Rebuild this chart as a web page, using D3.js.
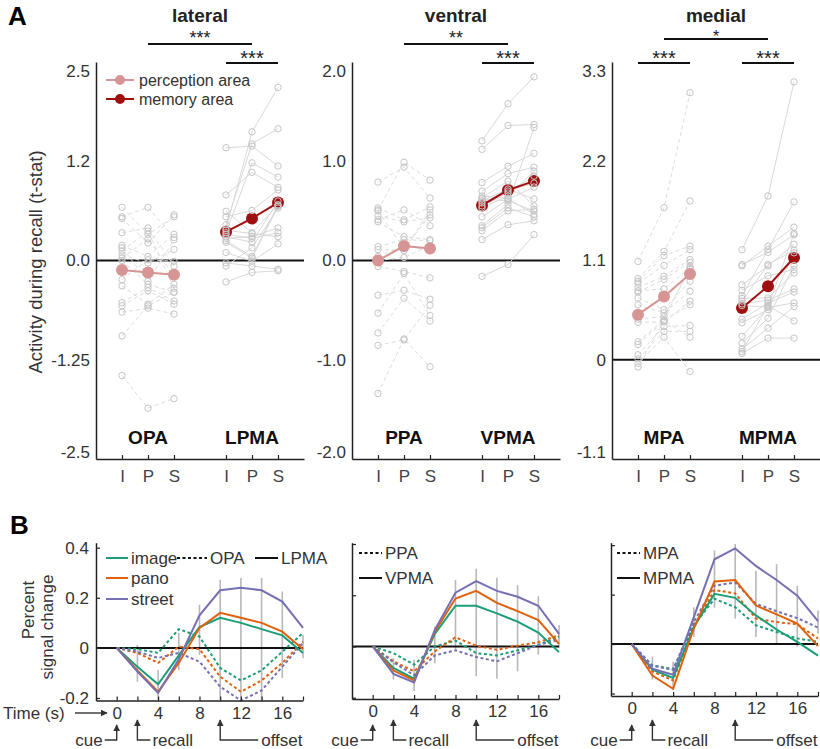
<!DOCTYPE html>
<html><head><meta charset="utf-8">
<script src="https://cdn.jsdelivr.net/npm/d3@7"></script>
<style>body{margin:0;background:#fff}svg{display:block}</style>
</head><body><svg id="c" width="820" height="749"></svg>
<script>
// ---------------- Panel A data ----------------
const conditions = ["I", "P", "S"];
const regionTitles = ["lateral", "ventral", "medial"];
const perceptionNames = ["OPA", "PPA", "MPA"];
const memoryNames = ["LPMA", "VPMA", "MPMA"];
const yDomainsA = [[-2.5, 2.5], [-2, 2], [-1.1, 3.3]];
const yTicksA = [[-2.5, -1.25, 0, 1.25, 2.5], [-2, -1, 0, 1, 2], [-1.1, 0, 1.1, 2.2, 3.3]];
const yTickLabelsA = [["-2.5", "-1.25", "0.0", "1.2", "2.5"], ["-2.0", "-1.0", "0.0", "1.0", "2.0"], ["-1.1", "0", "1.1", "2.2", "3.3"]];

const OPA_I = [0.67, 0.55, 0.53, 0.35, 0.19, 0.16, 0.12, 0.07, 0.03, 0.00, -0.24, -0.32, -0.53, -0.57, -0.65, -0.95, -1.45];
const OPA_P = [0.33, 0.67, 0.22, 0.41, 0.05, -0.26, 0.37, -0.03, 0.275, -0.30, 0.01, -0.55, -0.34, -0.38, -0.60, -0.57, -1.86];
const OPA_S = [0.55, 0.29, 0.575, -0.07, 0.33, 0.26, -0.35, 0.14, -0.20, -0.40, -0.01, -0.30, -0.51, -0.55, -0.675, -0.40, -1.74];
const LPMA_I = [1.42, 0.825, 0.40, 0.45, 0.35, 0.55, 0.62, 0.30, 0.28, 0.33, 0.25, 0.38, 0.23, 0.10, -0.03, -0.07, -0.27];
const LPMA_P = [1.44, 1.11, 1.62, 1.47, 1.23, 0.63, 0.35, 0.23, 0.30, 0.28, 0.05, 0.34, 0.03, -0.01, -0.07, 0.16, -0.15];
const LPMA_S = [1.19, 0.92, 2.18, 1.66, 1.05, 0.89, 0.70, 0.75, 0.41, 0.35, 0.70, 0.30, 0.68, 0.21, -0.11, 0.66, -0.13];
const PPA_I = [0.79, 0.53, 0.51, 0.50, 0.45, 0.41, 0.39, 0.14, 0.11, 0.04, 0.00, -0.06, -0.35, -0.53, -0.73, -0.855, -1.34];
const PPA_P = [0.94, 0.41, 0.99, 0.12, 0.39, 0.51, 0.24, 0.21, 0.10, 0.15, 0.03, -0.11, -0.30, -0.13, -0.38, -0.80, -0.79];
const PPA_S = [0.63, 0.54, 0.81, 0.46, 0.43, 0.35, 0.21, 0.20, 0.51, 0.10, 0.15, -0.175, -0.39, -0.555, -0.61, -0.45, -1.07];
const VPMA_I = [1.205, 1.12, 0.785, 0.70, 0.63, 0.53, 0.44, 0.35, 0.33, 0.30, 0.21, -0.16, 0.55, 0.58, 0.60, 0.62, 0.65];
const VPMA_P = [1.58, 1.36, 0.95, 0.875, 0.80, 0.65, 0.615, 0.565, 0.53, 0.50, 0.36, -0.04, 0.68, 0.70, 0.72, 0.60, 0.625];
const VPMA_S = [1.85, 1.37, 1.08, 0.94, 0.55, 0.90, 0.74, 1.34, 0.44, 0.515, 0.40, 0.26, 0.85, 0.78, 0.62, 0.50, 0.465];
const MPA_I = [1.09, 0.90, 0.87, 0.85, 0.80, 0.75, 0.765, 0.685, 0.61, 0.45, 0.415, 0.20, 0.17, 0.055, 0.01, -0.04, -0.08];
const MPA_P = [1.685, 1.20, 1.155, 1.045, 0.925, 0.89, 0.785, 0.555, 0.52, 0.48, 0.42, 0.44, 0.43, 0.37, 0.315, 0.25, 0.435];
const MPA_S = [2.96, 1.76, 1.26, 1.22, 1.11, 1.08, 1.02, 0.87, 0.76, 1.00, 0.65, 1.035, 0.61, 0.38, 0.315, -0.13, 0.25];
const MPMA_I = [1.22, 1.055, 1.04, 0.83, 0.77, 0.71, 0.68, 0.65, 0.62, 0.60, 0.45, 0.41, 0.26, 0.185, 0.12, 0.09, 0.07];
const MPMA_P = [1.815, 1.19, 1.26, 1.04, 0.93, 1.22, 0.685, 1.055, 0.66, 0.585, 0.63, 0.555, 0.58, 0.46, 0.35, 0.60, 0.24];
const MPMA_S = [3.08, 1.385, 1.47, 1.28, 1.00, 1.75, 0.96, 1.215, 0.785, 1.40, 0.75, 1.185, 0.63, 1.045, 0.59, 0.43, 0.24];

const perceptionMeans = [[-0.12, -0.15, -0.18], [0.0, 0.145, 0.12], [0.50, 0.70, 0.95]];
const memoryMeans = [[0.36, 0.53, 0.73], [0.555, 0.71, 0.80], [0.574, 0.815, 1.13]];
const sigAcross = ["***", "**", "*"];
const sigPerception = [null, null, "***"];
const sigMemory = ["***", "***", "***"];

// ---------------- Panel B data ----------------
const timePoints = [0, 2, 4, 6, 8, 10, 12, 14, 16, 18];
const conditionNames = ["image", "pano", "street"];
const LPMA_tc_image = [0, -0.075, -0.145, -0.03, 0.083, 0.12, 0.10, 0.075, 0.05, -0.02];
const LPMA_tc_pano = [0, -0.09, -0.175, -0.06, 0.08, 0.14, 0.12, 0.10, 0.065, -0.005];
const LPMA_tc_street = [0, -0.095, -0.18, -0.045, 0.13, 0.23, 0.24, 0.23, 0.185, 0.08];
const OPA_tc_image = [0, -0.005, -0.02, 0.075, 0.045, -0.08, -0.13, -0.09, -0.015, 0.06];
const OPA_tc_pano = [0, -0.02, -0.06, 0.005, -0.005, -0.115, -0.175, -0.13, -0.06, 0.025];
const OPA_tc_street = [0, -0.015, -0.04, -0.02, -0.055, -0.155, -0.21, -0.17, -0.075, 0.02];
const VPMA_tc_image = [0, -0.084, -0.126, 0.049, 0.159, 0.159, 0.129, 0.097, 0.054, -0.022];
const VPMA_tc_pano = [0, -0.094, -0.132, 0.058, 0.187, 0.217, 0.17, 0.138, 0.103, 0.01];
const VPMA_tc_street = [0, -0.107, -0.14, 0.065, 0.21, 0.255, 0.217, 0.194, 0.159, 0.049];
const PPA_tc_image = [0, -0.026, -0.071, 0, 0.023, -0.026, -0.035, -0.015, 0.006, 0.039];
const PPA_tc_pano = [0, -0.058, -0.097, -0.019, 0.036, 0.003, -0.013, 0.003, 0.017, 0.044];
const PPA_tc_street = [0, -0.062, -0.112, -0.035, -0.015, -0.041, -0.058, -0.026, 0.006, 0.026];
const MPMA_tc_image = [0, -0.104, -0.137, 0.069, 0.203, 0.187, 0.116, 0.059, 0.009, -0.047];
const MPMA_tc_pano = [0, -0.127, -0.181, 0.063, 0.253, 0.259, 0.156, 0.12, 0.083, -0.008];
const MPMA_tc_street = [0, -0.1, -0.124, 0.109, 0.343, 0.387, 0.316, 0.259, 0.196, 0.093];
const MPA_tc_image = [0, -0.087, -0.101, 0.076, 0.183, 0.149, 0.076, 0.049, 0.023, 0.009];
const MPA_tc_pano = [0, -0.111, -0.147, 0.067, 0.219, 0.205, 0.103, 0.089, 0.08, 0.023];
const MPA_tc_street = [0, -0.087, -0.104, 0.089, 0.236, 0.249, 0.163, 0.133, 0.105, 0.067];
const errLow = [
  [null, -0.135, -0.208, -0.088, -0.028, -0.208, -0.21, -0.21, -0.12, -0.041],
  [null, -0.129, -0.174, -0.065, -0.01, -0.116, -0.126, -0.097, -0.032, -0.006],
  [null, -0.144, -0.184, 0.029, 0.147, 0.103, 0.029, 0.003, -0.011, 0.043]];
const errHigh = [
  [null, 0.012, -0.088, 0.059, 0.172, 0.272, 0.279, 0.279, 0.225, 0.052],
  [null, -0.045, -0.052, 0.077, 0.26, 0.303, 0.268, 0.239, 0.196, 0.084],
  [null, -0.05, -0.071, 0.149, 0.379, 0.405, 0.296, 0.323, 0.236, 0.136]];
const yTicksB = [-0.2, 0, 0.2, 0.4];
const yTickLabelsB = ["-0.2", "0", "0.2", "0.4"];
const xTicksB = [0, 2, 4, 6, 8, 10, 12, 14, 16, 18];

// ---------------- drawing ----------------
const FONT = '"Liberation Sans", Arial, Helvetica, sans-serif';
const svg = d3.select("#c");
const txtCol = "#222";
const PINK = "#d69594", DARKRED = "#a00f10";
const tcColors = {image: "#1b9e77", pano: "#e0600c", street: "#7570b3"};

function text(g, x, y, s, size, opts = {}) {
  return g.append("text").attr("x", x).attr("y", y).text(s)
    .attr("font-family", FONT).attr("font-size", size)
    .attr("font-weight", opts.bold ? "bold" : null)
    .attr("fill", opts.fill || txtCol)
    .attr("text-anchor", opts.anchor || "start")
    .attr("dominant-baseline", opts.baseline || "central");
}

text(svg, 8, 16, "A", 26, {bold: true, fill: "#000"});
text(svg, 10, 525, "B", 26, {bold: true, fill: "#000"});

const perceptionSubj = [[OPA_I, OPA_P, OPA_S], [PPA_I, PPA_P, PPA_S], [MPA_I, MPA_P, MPA_S]];
const memorySubj = [[LPMA_I, LPMA_P, LPMA_S], [VPMA_I, VPMA_P, VPMA_S], [MPMA_I, MPMA_P, MPMA_S]];
const aX0 = [96, 352, 612], aW = 208, aTop = 62, aBot = 459;

text(svg, 0, 0, "Activity during recall (t-stat)", 18.5, {anchor: "middle", fill: "#333"})
  .attr("transform", "translate(35,262) rotate(-90)");

regionTitles.forEach((title, i) => {
  const x = d3.scaleLinear().domain([0, 8]).range([aX0[i], aX0[i] + aW]);
  const y = d3.scaleLinear().domain(yDomainsA[i]).range([aBot, aTop]);
  const g = svg.append("g");

  // zero line
  g.append("line").attr("x1", x(0)).attr("x2", x(8)).attr("y1", y(0)).attr("y2", y(0))
    .attr("stroke", "#111").attr("stroke-width", 2);

  // y axis
  const nT = yTicksA[i].length;
  const ya = g.append("g").attr("transform", `translate(${x(0)},0)`)
    .call(d3.axisLeft(y).tickValues(yTicksA[i]).tickFormat((d, j) => yTickLabelsA[i][j]).tickSize(0).tickPadding(6));
  ya.select(".domain").attr("stroke", "#222").attr("stroke-width", 1.5);
  ya.selectAll("text").attr("font-size", 17).attr("font-family", FONT).attr("fill", "#333")
    .attr("dy", (d, j) => j === 0 ? "-0.06em" : (j === nT - 1 ? "0.88em" : "0.32em"));

  // x axis
  const xa = g.append("g").attr("transform", `translate(0,${aBot})`)
    .call(d3.axisBottom(x).tickValues([1, 2, 3, 5, 6, 7]).tickFormat((d, j) => conditions[j % 3])
      .tickSizeInner(-4).tickSizeOuter(0).tickPadding(11));
  xa.select(".domain").attr("stroke", "#222").attr("stroke-width", 1.5);
  xa.selectAll(".tick line").attr("stroke", "#222").attr("stroke-width", 1.2);
  xa.selectAll("text").attr("font-size", 17).attr("font-family", FONT).attr("fill", "#444");

  // title and significance
  text(g, x(4), 15, title, 19, {bold: true, anchor: "middle"});
  const topBarY = i === 2 ? 39 : 44;
  g.append("line").attr("x1", x(2)).attr("x2", x(6)).attr("y1", topBarY).attr("y2", topBarY)
    .attr("stroke", "#111").attr("stroke-width", 2);
  if (i === 2) text(g, x(4), 41.5, sigAcross[i], 16, {anchor: "middle", baseline: "auto"});
  else text(g, x(4), 43.5, sigAcross[i], 18, {anchor: "middle", baseline: "auto"});
  [[sigPerception[i], 1, 3], [sigMemory[i], 5, 7]].forEach(([s, a, b]) => {
    if (!s) return;
    g.append("line").attr("x1", x(a)).attr("x2", x(b)).attr("y1", 63).attr("y2", 63)
      .attr("stroke", "#111").attr("stroke-width", 2);
    text(g, x((a + b) / 2), 64.5, s, 20, {anchor: "middle", baseline: "auto"});
  });

  // region labels
  text(g, x(2), 437, perceptionNames[i], 19, {bold: true, anchor: "middle", fill: "#111"});
  text(g, x(6), 437, memoryNames[i], 19, {bold: true, anchor: "middle", fill: "#111"});

  const line = d3.line().x(d => x(d.x)).y(d => y(d.v));
  function group(subj, xs, mem, means) {
    const n = subj[0].length;
    const rows = d3.range(n).map(k => [0, 1, 2].map(c => ({x: xs[c], v: subj[c][k]})));
    const pts = rows.flat();
    g.append("g").selectAll("path").data(rows).join("path")
      .attr("d", line).attr("fill", "none").attr("stroke", mem ? "#d9d9d9" : "#dcdcdc")
      .attr("stroke-width", 1).attr("stroke-dasharray", mem ? null : "4,3");
    const circ = () => g.append("g").selectAll("circle").data(pts).join("circle")
      .attr("cx", d => x(d.x)).attr("cy", d => y(d.v)).attr("r", 3.2)
      .attr("fill", "none").attr("stroke", "#c6c6c6").attr("stroke-width", 1);
    if (!mem) circ();
    const md = means.map((v, c) => ({x: xs[c], v}));
    const col = mem ? DARKRED : PINK;
    g.append("path").attr("d", line(md)).attr("fill", "none").attr("stroke", col).attr("stroke-width", 2);
    g.append("g").selectAll("circle").data(md).join("circle")
      .attr("cx", d => x(d.x)).attr("cy", d => y(d.v)).attr("r", 6).attr("fill", col);
    if (mem) circ();
  }
  group(perceptionSubj[i], [1, 2, 3], false, perceptionMeans[i]);
  group(memorySubj[i], [5, 6, 7], true, memoryMeans[i]);

  // legend (lateral only)
  if (i === 0) {
    [["perception area", PINK, 80], ["memory area", DARKRED, 99]].forEach(([lab, col, ly]) => {
      g.append("line").attr("x1", 106).attr("x2", 134).attr("y1", ly).attr("y2", ly).attr("stroke", col).attr("stroke-width", 2);
      g.append("circle").attr("cx", 120).attr("cy", ly).attr("r", 5).attr("fill", col);
      text(g, 139, ly, lab, 16, {fill: "#333"});
    });
  }
});

// ---------------- Panel B ----------------
const tcPerception = [
  {image: OPA_tc_image, pano: OPA_tc_pano, street: OPA_tc_street},
  {image: PPA_tc_image, pano: PPA_tc_pano, street: PPA_tc_street},
  {image: MPA_tc_image, pano: MPA_tc_pano, street: MPA_tc_street}];
const tcMemory = [
  {image: LPMA_tc_image, pano: LPMA_tc_pano, street: LPMA_tc_street},
  {image: VPMA_tc_image, pano: VPMA_tc_pano, street: VPMA_tc_street},
  {image: MPMA_tc_image, pano: MPMA_tc_pano, street: MPMA_tc_street}];
const bX0 = [96, 352, 611], bW = 207;
const bYDomains = [[-0.21, 0.42], [-0.205, 0.405], [-0.21, 0.41]];
const bYRanges = [[700.5, 542.7], [699, 542.7], [696, 542.7]];

const defs = svg.append("defs");
defs.append("marker").attr("id", "arr").attr("viewBox", "0 0 10 10").attr("refX", 9).attr("refY", 5)
  .attr("markerWidth", 7).attr("markerHeight", 7).attr("markerUnits", "userSpaceOnUse").attr("orient", "auto")
  .append("path").attr("d", "M0,0 L10,5 L0,10 z").attr("fill", "#333");

const yLab = svg.append("g").attr("transform", "rotate(-90)");
text(yLab, -610, 28, "Percent", 17, {anchor: "middle", fill: "#333"});
text(yLab, -627, 47, "signal change", 17, {anchor: "middle", fill: "#333"});

[0, 1, 2].forEach(p => {
  const x = d3.scaleLinear().domain([-2, 18]).range([bX0[p], bX0[p] + bW]);
  const y = d3.scaleLinear().domain(bYDomains[p]).range(bYRanges[p]);
  const g = svg.append("g");

  // error bars
  g.append("g").selectAll("line").data(timePoints.map((t, k) => ({t, lo: errLow[p][k], hi: errHigh[p][k]})).filter(d => d.lo !== null))
    .join("line").attr("x1", d => x(d.t)).attr("x2", d => x(d.t)).attr("y1", d => y(d.lo)).attr("y2", d => y(d.hi))
    .attr("stroke", "#b8b8b8").attr("stroke-width", 1.6);

  // zero line
  g.append("line").attr("x1", x(-2)).attr("x2", x(18)).attr("y1", y(0)).attr("y2", y(0))
    .attr("stroke", "#111").attr("stroke-width", 2);

  const line = d3.line().x((d, k) => x(timePoints[k])).y(d => y(d));
  conditionNames.forEach(c => {
    g.append("path").attr("d", line(tcPerception[p][c])).attr("fill", "none")
      .attr("stroke", tcColors[c]).attr("stroke-width", 2).attr("stroke-dasharray", "3,2.5");
  });
  conditionNames.forEach(c => {
    g.append("path").attr("d", line(tcMemory[p][c])).attr("fill", "none")
      .attr("stroke", tcColors[c]).attr("stroke-width", 2);
  });

  // axes
  const ya = g.append("g").attr("transform", `translate(${x(-2)},0)`)
    .call(d3.axisLeft(y).tickValues(yTicksB).tickFormat((d, j) => p === 0 ? yTickLabelsB[j] : "")
      .tickSizeInner(-4).tickSizeOuter(0).tickPadding(7));
  ya.select(".domain").attr("stroke", "#222").attr("stroke-width", 1.5);
  ya.selectAll(".tick line").attr("stroke", "#222").attr("stroke-width", 1.2);
  ya.selectAll("text").attr("font-size", 17).attr("font-family", FONT).attr("fill", "#333");

  const xa = g.append("g").attr("transform", `translate(0,${bYRanges[p][0]})`)
    .call(d3.axisBottom(x).tickValues(xTicksB).tickFormat(d => d % 4 === 0 ? d : "")
      .tickSizeInner(-4).tickSizeOuter(0).tickPadding(6));
  xa.select(".domain").attr("stroke", "#222").attr("stroke-width", 1.5);
  xa.selectAll(".tick line").attr("stroke", "#222").attr("stroke-width", 1.2);
  xa.selectAll("text").attr("font-size", 17).attr("font-family", FONT).attr("fill", "#333");

  // event annotations
  const ay = 740;
  g.append("path").attr("d", `M${x(0) - 12},${ay}H${x(0)}V${725}`).attr("fill", "none").attr("stroke", "#333").attr("stroke-width", 1.4).attr("marker-end", "url(#arr)");
  text(g, x(0) - 14, ay, "cue", 17, {anchor: "end", fill: "#333"});
  g.append("path").attr("d", `M${x(2) + 13},${ay}H${x(2)}V${720}`).attr("fill", "none").attr("stroke", "#333").attr("stroke-width", 1.4).attr("marker-end", "url(#arr)");
  text(g, x(2) + 15, ay, "recall", 17, {fill: "#333"});
  g.append("path").attr("d", `M${x(10) + 38},${ay}H${x(10)}V${720}`).attr("fill", "none").attr("stroke", "#333").attr("stroke-width", 1.4).attr("marker-end", "url(#arr)");
  text(g, x(10) + 41, ay, "offset", 17, {fill: "#333"});

  // legends
  const legX = [[177, 207, 210, 255, 278, 281], [359, 382, 385, 359, 382, 385], [617, 640, 643, 617, 640, 643]][p];
  const legY = [[558, 558], [553, 578], [553, 578]][p];
  g.append("line").attr("x1", legX[0]).attr("x2", legX[1]).attr("y1", legY[0]).attr("y2", legY[0])
    .attr("stroke", "#111").attr("stroke-width", 2).attr("stroke-dasharray", "3,2.5");
  text(g, legX[2], legY[0], perceptionNames[p], 17, {fill: "#333"});
  g.append("line").attr("x1", legX[3]).attr("x2", legX[4]).attr("y1", legY[1]).attr("y2", legY[1])
    .attr("stroke", "#111").attr("stroke-width", 2);
  text(g, legX[5], legY[1], memoryNames[p], 17, {fill: "#333"});

  if (p === 0) {
    conditionNames.forEach((c, k) => {
      const ly = [558, 578, 599][k];
      g.append("line").attr("x1", 106).attr("x2", 128).attr("y1", ly).attr("y2", ly).attr("stroke", tcColors[c]).attr("stroke-width", 2);
      text(g, 131, ly, c, 17, {fill: "#333"});
    });
    text(g, 3, 713, "Time (s)", 17, {fill: "#333"});
    g.append("line").attr("x1", 75).attr("x2", 107).attr("y1", 713).attr("y2", 713)
      .attr("stroke", "#333").attr("stroke-width", 1.4).attr("marker-end", "url(#arr)");
  }
});
</script></body></html>
